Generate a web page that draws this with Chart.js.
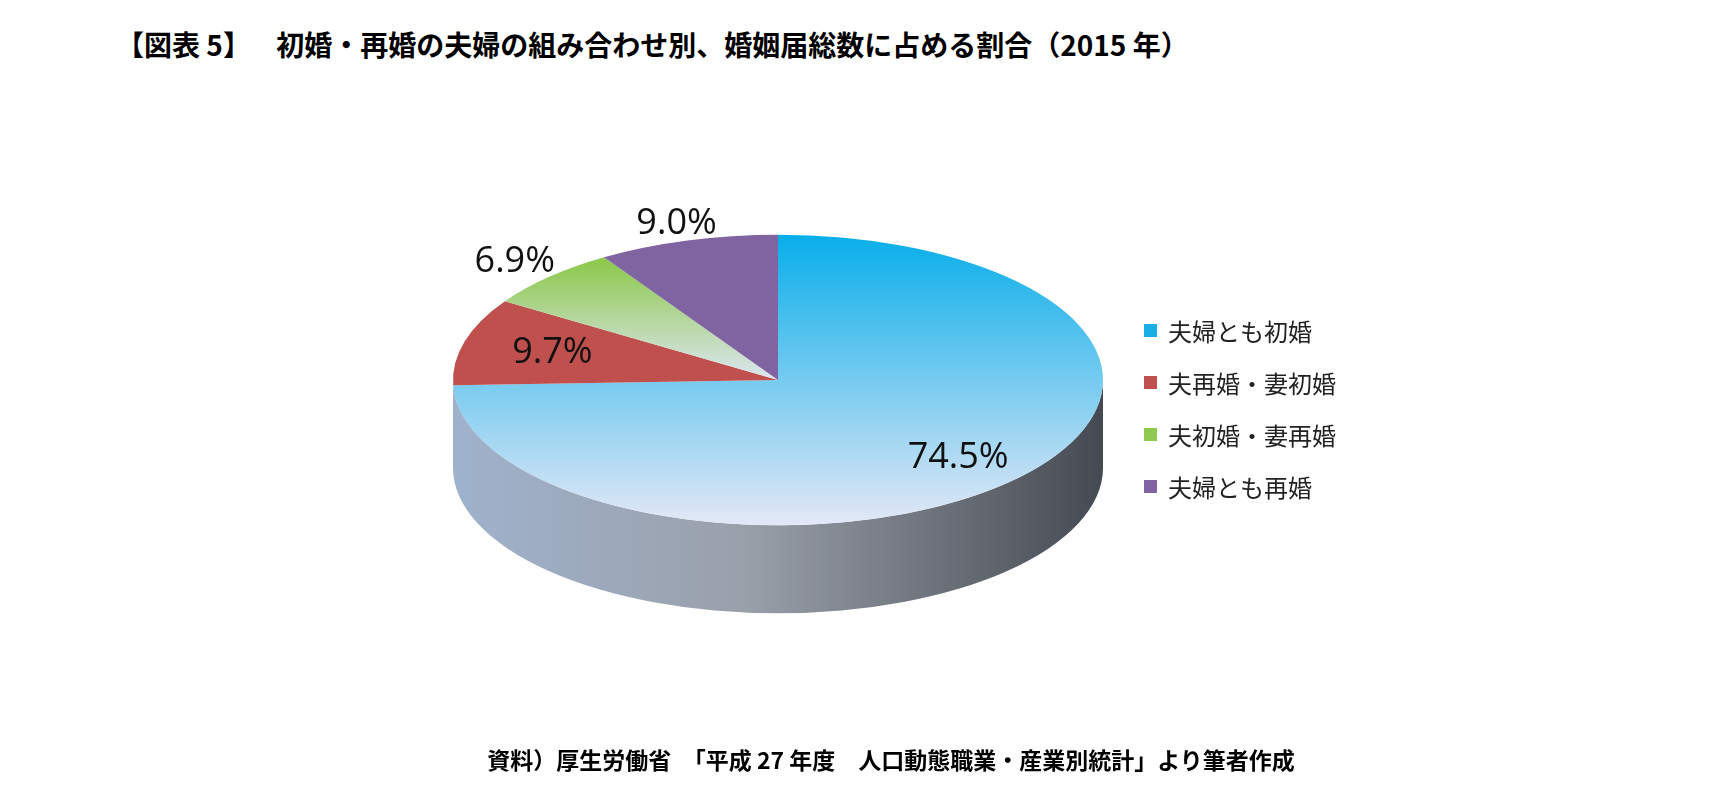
<!DOCTYPE html>
<html><head><meta charset="utf-8">
<script src="https://cdn.jsdelivr.net/npm/chart.js@4"></script>
<style>
body{margin:0;background:#fff;width:1717px;height:806px;overflow:hidden;position:relative;font-family:"Noto Sans CJK JP",sans-serif;}
#title{position:absolute;left:116px;top:24px;font-size:28px;font-weight:bold;color:#000;white-space:pre;}
#note{position:absolute;left:0;width:1782px;text-align:center;top:742px;font-size:23px;font-weight:bold;color:#000;white-space:pre;}
#wrap{position:absolute;left:0;top:0;width:1717px;height:806px;}
#legend{position:absolute;left:1144px;top:304px;font-size:24px;color:#222;}
#legend div{height:52px;display:flex;align-items:center;}
#legend span{display:inline-block;width:13px;height:13px;margin-right:11px;}
</style></head><body>
<div id="title">【図表 5】    初婚・再婚の夫婦の組み合わせ別、婚姻届総数に占める割合（2015 年）</div>
<div id="wrap"><canvas id="c"></canvas></div>
<div id="legend"></div>
<div id="note">資料）厚生労働省　「平成 27 年度　人口動態職業・産業別統計」より筆者作成</div>
<script>
// データ
const categorias = ["夫婦とも初婚", "夫再婚・妻初婚", "夫初婚・妻再婚", "夫婦とも再婚"];
const valores = [74.5, 9.7, 6.9, 9.0];
const etiquetas = ["74.5%", "9.7%", "6.9%", "9.0%"];
const colores = ["#1aaee8", "#c0504d", "#8fc950", "#8064a2"];

const SY = 0.447, DEPTH = 88;
const factores = [0.77, 0.72, 1.15, 1.12];

// Leyenda HTML
document.getElementById("legend").innerHTML = categorias.map((c, i) =>
    `<div><span style="background:${colores[i]}"></span>${c}</div>`).join("");

function relleno(ctx) {
    const chart = ctx.chart, a = chart.chartArea;
    if (!a) return colores[ctx.dataIndex];
    const i = ctx.dataIndex;
    const g = chart.ctx.createLinearGradient(0, a.top, 0, a.bottom);
    if (i === 0) { g.addColorStop(0, "#08aeea"); g.addColorStop(1, "#e4e8f6"); return g; }
    if (i === 2) { g.addColorStop(0.1, "#8fc950"); g.addColorStop(0.5, "#dde6f2"); return g; }
    return colores[i];
}

const plano = {
    id: "plano",
    beforeDatasetsDraw(chart) {
        const ctx = chart.ctx, m = chart.getDatasetMeta(0).data[0];
        const cx = m.x, cy = m.y, r = m.outerRadius, ry = r * SY;
        // lateral
        const g = ctx.createLinearGradient(cx - r, 0, cx + r, 0);
        g.addColorStop(0, "#9fb2cc"); g.addColorStop(0.45, "#9aa0aa"); g.addColorStop(1, "#454a52");
        ctx.save();
        ctx.beginPath();
        ctx.ellipse(cx, cy + DEPTH, r, ry, 0, 0, Math.PI);
        ctx.lineTo(cx - r, cy);
        ctx.ellipse(cx, cy, r, ry, 0, Math.PI, 0, true);
        ctx.closePath();
        ctx.fillStyle = g; ctx.fill();
        ctx.restore();
        ctx.save();
        ctx.translate(cx, cy); ctx.scale(1, SY); ctx.translate(-cx, -cy);
    },
    afterDatasetsDraw(chart) {
        const ctx = chart.ctx;
        ctx.restore();
        const meta = chart.getDatasetMeta(0);
        ctx.save();
        ctx.font = "36px 'Open Sans', 'Noto Sans', sans-serif";
        ctx.fillStyle = "#111"; ctx.textAlign = "center"; ctx.textBaseline = "middle";
        meta.data.forEach((arc, i) => {
            const ang = (arc.startAngle + arc.endAngle) / 2;
            const r = arc.outerRadius * factores[i];
            ctx.fillText(etiquetas[i], arc.x + Math.cos(ang) * r, arc.y + Math.sin(ang) * r * SY);
        });
        ctx.restore();
    }
};

new Chart(document.getElementById("c"), {
    type: "pie",
    data: {
        labels: categorias,
        datasets: [{ data: valores, backgroundColor: relleno, borderWidth: 0 }]
    },
    options: {
        responsive: true, maintainAspectRatio: false, animation: false,
        layout: { padding: { left: 453, right: 614, top: 55, bottom: 101 } },
        plugins: { legend: { display: false }, tooltip: { enabled: false } }
    },
    plugins: [plano]
});
</script>
</body></html>
